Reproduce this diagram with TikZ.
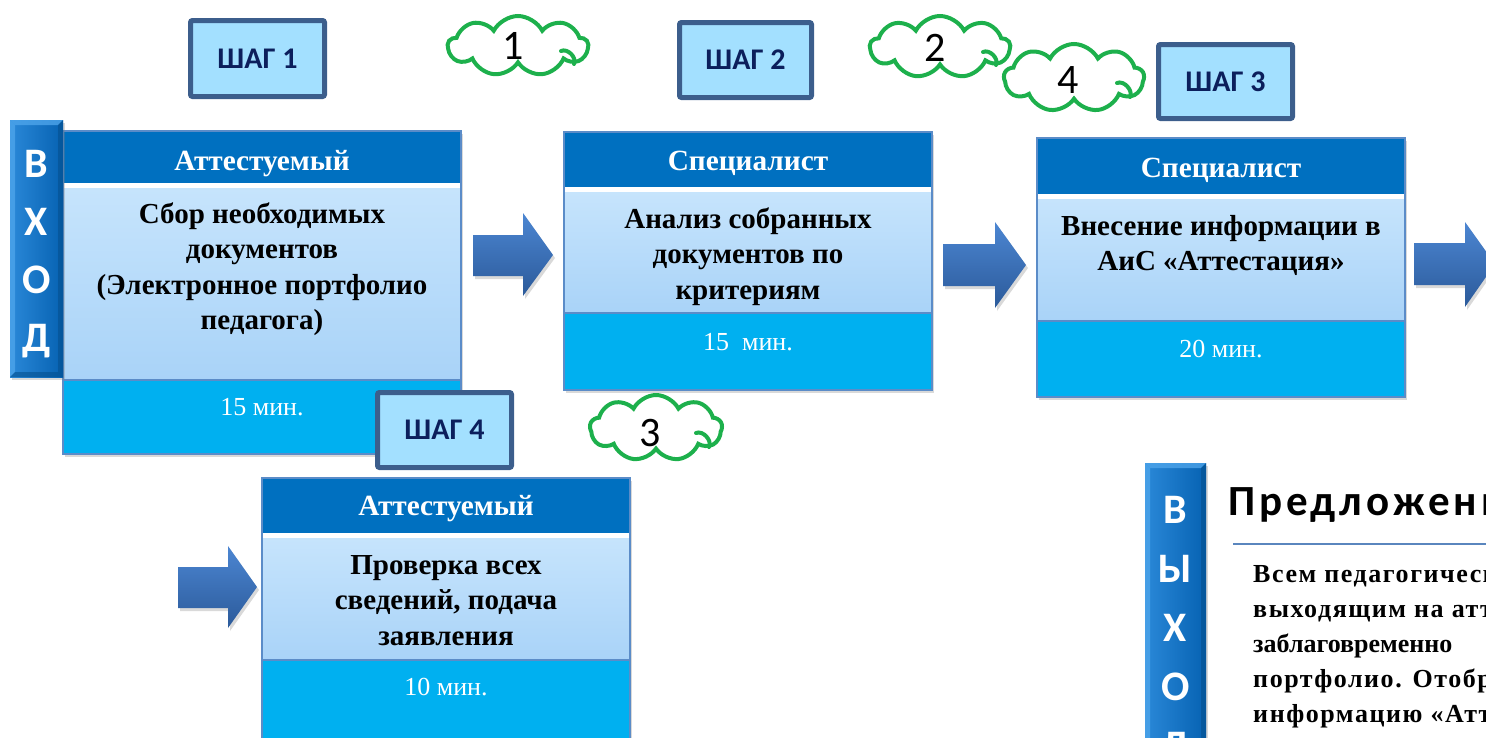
\documentclass[tikz,border=0pt]{standalone}
\usepackage{fontspec}
\setmainfont{Liberation Serif}
\newfontfamily\calfont{Carlito}
\newfontfamily\calspaced[LetterSpace=9]{Carlito}
\newfontfamily\serifspaced[LetterSpace=6]{Liberation Serif}
\usetikzlibrary{shapes.symbols,shadows}
\definecolor{hdr}{HTML}{0070C0}
\definecolor{bodyT}{HTML}{C6E4FC}
\definecolor{bodyB}{HTML}{A9D3F8}
\definecolor{ftr}{HTML}{00B0F0}
\definecolor{bdr}{HTML}{5B8CC8}
\definecolor{stepfill}{HTML}{A3E0FF}
\definecolor{stepdraw}{HTML}{3C5E8C}
\definecolor{steptext}{HTML}{0C1F5C}
\definecolor{cloudgreen}{HTML}{1DB04C}
\definecolor{arrT}{HTML}{4C86D2}
\definecolor{arrB}{HTML}{2B5A9A}
\definecolor{barL}{HTML}{2A88D8}
\definecolor{barM}{HTML}{0A6EC2}
\definecolor{barR}{HTML}{0662B2}
\definecolor{barhi}{HTML}{4DA4EA}
\definecolor{barlo}{HTML}{04508F}
\definecolor{rulec}{HTML}{5A86BE}
\newcommand{\mlines}[2]{\begin{tabular}[t]{@{}#1@{}}#2\end{tabular}}
\begin{document}
\begin{tikzpicture}[x=1pt,y=-1pt,
  frame/.style={draw=bdr, line width=1.5pt, fill=white, inner sep=0, outer sep=0, anchor=north west,
    drop shadow={shadow xshift=2pt, shadow yshift=-3pt, opacity=0.3}},
  rim/.style={draw=bdr, line width=1.5pt},
  hdrbox/.style={fill=hdr, inner sep=0, outer sep=0, anchor=north west},
  bodybox/.style={top color=bodyT, bottom color=bodyB, inner sep=0, outer sep=0, anchor=north west},
  ftrbox/.style={fill=ftr, inner sep=0, outer sep=0, anchor=north west},
  hdrtext/.style={text=white, font=\fontsize{29.3}{34}\selectfont\bfseries, anchor=base, inner sep=0},
  bodytext/.style={font=\fontsize{29}{35.5}\selectfont\bfseries, anchor=base, inner sep=0},
  ftrtext/.style={text=white, font=\fontsize{26}{32}\selectfont, anchor=base, inner sep=0},
  stepbox/.style={draw=stepdraw, line width=5pt, fill=stepfill, rounded corners=2pt, text=steptext,
    font=\calfont\bfseries\fontsize{30}{36}\selectfont, anchor=north west, inner sep=0},
  numcloud/.style={cloud, cloud puffs=9, cloud puff arc=125, aspect=2.2, draw=cloudgreen,
    line width=4pt, fill=white, inner sep=0},
  curl/.style={draw=cloudgreen, line width=4pt, line cap=round},
  numtext/.style={font=\calfont\fontsize{42}{50}\selectfont, inner sep=0},
  sidebar/.style={left color=barL, middle color=barM, right color=barR, inner sep=0, outer sep=0,
    anchor=north west, drop shadow={shadow xshift=2pt, shadow yshift=-3pt, opacity=0.3}},
  bevelhi/.style={fill=barhi, opacity=0.8},
  bevello/.style={fill=barlo, opacity=0.6},
  barletter/.style={text=white, font=\calfont\bfseries\fontsize{42}{50}\selectfont, anchor=base, inner sep=0},
  blockarrow/.style={top color=arrT, bottom color=arrB,
    drop shadow={shadow xshift=2pt, shadow yshift=-3pt, opacity=0.3}}
]
\useasboundingbox (0,0) rectangle (1486,737);
\clip (0,0) rectangle (1486,737);

% ---------- Box 1
\node[frame, minimum width=398, minimum height=323] (b1) at (63,131) {};
\node[hdrbox, minimum width=398, minimum height=52] (b1h) at (63,131) {};
\node[bodybox, minimum width=398, minimum height=192] (b1b) at (63,188) {};
\node[ftrbox, minimum width=398, minimum height=74] (b1f) at (63,380) {};
\draw[rim] (b1.north west) rectangle (b1.south east);
\draw[rim] (b1f.north west) -- (b1f.north east);
\node[hdrtext] (b1ht) at (262,170) {Аттестуемый};
\node[bodytext] (b1bt) at (262,223) {\mlines{c}{Сбор необходимых\\документов\\(Электронное портфолио\\педагога)}};
\node[ftrtext] (b1ft) at (262,415) {15 мин.};

% ---------- Box 2
\node[frame, minimum width=368, minimum height=258] (b2) at (564,132) {};
\node[hdrbox, minimum width=368, minimum height=55] (b2h) at (564,132) {};
\node[bodybox, minimum width=368, minimum height=121] (b2b) at (564,192) {};
\node[ftrbox, minimum width=368, minimum height=77] (b2f) at (564,313) {};
\draw[rim] (b2.north west) rectangle (b2.south east);
\draw[rim] (b2f.north west) -- (b2f.north east);
\node[hdrtext] (b2ht) at (748,170) {Специалист};
\node[bodytext] (b2bt) at (748,228) {\mlines{c}{Анализ собранных\\документов по\\критериям}};
\node[ftrtext] (b2ft) at (748,350) {15\ \ мин.};

% ---------- Box 3
\node[frame, minimum width=368, minimum height=259] (b3) at (1037,138) {};
\node[hdrbox, minimum width=368, minimum height=56] (b3h) at (1037,138) {};
\node[bodybox, minimum width=368, minimum height=122] (b3b) at (1037,199) {};
\node[ftrbox, minimum width=368, minimum height=76] (b3f) at (1037,321) {};
\draw[rim] (b3.north west) rectangle (b3.south east);
\draw[rim] (b3f.north west) -- (b3f.north east);
\node[hdrtext] (b3ht) at (1221,177) {Специалист};
\node[bodytext] (b3bt) at (1221,235) {\mlines{c}{Внесение информации в\\АиС «Аттестация»}};
\node[ftrtext] (b3ft) at (1221,357) {20 мин.};

% ---------- Box 4
\node[frame, minimum width=368, minimum height=300] (b4) at (262,478) {};
\node[hdrbox, minimum width=368, minimum height=55] (b4h) at (262,478) {};
\node[bodybox, minimum width=368, minimum height=122] (b4b) at (262,538) {};
\node[ftrbox, minimum width=368, minimum height=118] (b4f) at (262,660) {};
\draw[rim] (b4.north west) rectangle (b4.south east);
\draw[rim] (b4f.north west) -- (b4f.north east);
\node[hdrtext] (b4ht) at (446,515) {Аттестуемый};
\node[bodytext] (b4bt) at (446,574) {\mlines{c}{Проверка всех\\сведений, подача\\заявления}};
\node[ftrtext] (b4ft) at (446,695) {10 мин.};

% ---------- side bars
\node[sidebar, minimum width=53, minimum height=257] (vhod) at (10,120) {};
\fill[bevelhi] (vhod.north west) -- (vhod.north east) -- ([xshift=-5pt,yshift=-5pt]vhod.north east) -- ([xshift=5pt,yshift=-5pt]vhod.north west) -- cycle;
\fill[bevelhi] (vhod.north west) -- ([xshift=5pt,yshift=-5pt]vhod.north west) -- ([xshift=5pt,yshift=5pt]vhod.south west) -- (vhod.south west) -- cycle;
\fill[bevello] (vhod.north east) -- ([xshift=-5pt,yshift=-5pt]vhod.north east) -- ([xshift=-5pt,yshift=5pt]vhod.south east) -- (vhod.south east) -- cycle;
\fill[bevello] (vhod.south west) -- ([xshift=5pt,yshift=5pt]vhod.south west) -- ([xshift=-5pt,yshift=5pt]vhod.south east) -- (vhod.south east) -- cycle;
\node[barletter] (v1) at (36.5,177) {В};
\node[barletter] (v2) at (36.5,235) {Х};
\node[barletter] (v3) at (36.5,293) {О};
\node[barletter] (v4) at (36.5,351) {Д};

\node[sidebar, minimum width=61, minimum height=320] (vyhod) at (1145,463) {};
\fill[bevelhi] (vyhod.north west) -- (vyhod.north east) -- ([xshift=-5pt,yshift=-5pt]vyhod.north east) -- ([xshift=5pt,yshift=-5pt]vyhod.north west) -- cycle;
\fill[bevelhi] (vyhod.north west) -- ([xshift=5pt,yshift=-5pt]vyhod.north west) -- ([xshift=5pt,yshift=5pt]vyhod.south west) -- (vyhod.south west) -- cycle;
\fill[bevello] (vyhod.north east) -- ([xshift=-5pt,yshift=-5pt]vyhod.north east) -- ([xshift=-5pt,yshift=5pt]vyhod.south east) -- (vyhod.south east) -- cycle;
\node[barletter] (w1) at (1175.5,523) {В};
\node[barletter] (w2) at (1175.5,582) {Ы};
\node[barletter] (w3) at (1175.5,641) {Х};
\node[barletter] (w4) at (1175.5,700) {О};
\node[barletter] (w5) at (1175.5,759) {Д};

% ---------- block arrows
\path[blockarrow] (473,235) -- (523,235) -- (523,213) -- (553,255) -- (523,296) -- (523,276) -- (473,276) -- cycle;
\path[blockarrow] (943,244) -- (995,244) -- (995,222) -- (1026,265) -- (995,308) -- (995,286) -- (943,286) -- cycle;
\path[blockarrow] (1414,243) -- (1465,243) -- (1465,222) -- (1495,264) -- (1465,307) -- (1465,285) -- (1414,285) -- cycle;
\path[blockarrow] (178,567) -- (228,567) -- (228,546) -- (257,587) -- (228,628) -- (228,608) -- (178,608) -- cycle;

% ---------- step labels
\node[stepbox, minimum width=134, minimum height=76] (s1) at (188,18) {ШАГ 1};
\node[stepbox, minimum width=132, minimum height=75] (s2) at (677,20) {ШАГ 2};
\node[stepbox, minimum width=134, minimum height=74] (s3) at (1156,42) {ШАГ 3};
\node[stepbox, minimum width=134, minimum height=75] (s4) at (375,390) {ШАГ 4};

% ---------- clouds
\node[numcloud, minimum width=140, minimum height=60] (c1) at (518,46) {};
\draw[curl] ([xshift=43pt,yshift=-5pt]c1.center) to[bend left=70] ([xshift=56pt,yshift=-18pt]c1.center);
\node[numtext] (n1) at (513,46) {1};
\node[numcloud, minimum width=140, minimum height=62] (c2) at (940,47) {};
\draw[curl] ([xshift=43pt,yshift=-5pt]c2.center) to[bend left=70] ([xshift=56pt,yshift=-18pt]c2.center);
\node[numtext] (n2) at (935,48) {2};
\node[numcloud, minimum width=140, minimum height=68] (c4) at (1074,78) {};
\draw[curl] ([xshift=43pt,yshift=-5pt]c4.center) to[bend left=70] ([xshift=56pt,yshift=-19pt]c4.center);
\node[numtext] (n4) at (1068,80) {4};
\node[numcloud, minimum width=132, minimum height=66] (c3) at (656,428) {};
\draw[curl] ([xshift=40pt,yshift=-5pt]c3.center) to[bend left=70] ([xshift=53pt,yshift=-19pt]c3.center);
\node[numtext] (n3) at (650,433) {3};

% ---------- right panel
\node[anchor=base west, inner sep=0, font=\calspaced\bfseries\fontsize{43}{50}\selectfont] (title) at (1228,515) {Предложения};
\coordinate (r1) at (1233,544);
\coordinate (r2) at (1490,544);
\draw[rulec, line width=2.5pt] (r1) -- (r2);
\node[anchor=base west, inner sep=0, font=\fontsize{26}{35}\selectfont\bfseries] (para) at (1253,582)
  {\mlines{l}{{\serifspaced Всем педагогическим}\\{\serifspaced выходящим на аттестацию}\\заблаговременно\\{\serifspaced портфолио. Отобразить}\\{\serifspaced информацию «Аттестация»}}};
\end{tikzpicture}
\end{document}
